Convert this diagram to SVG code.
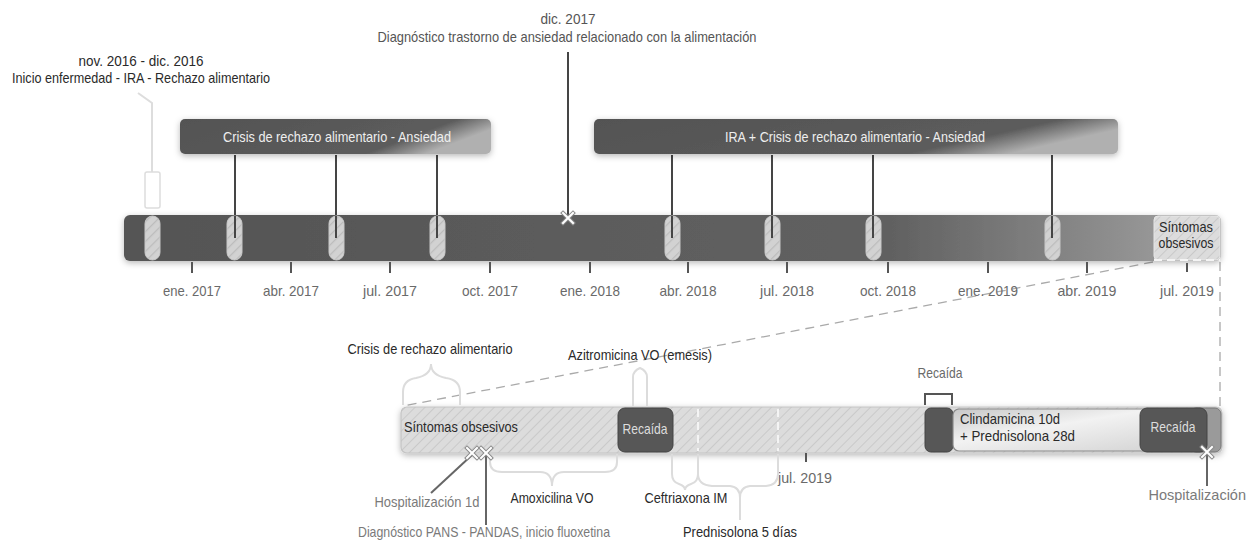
<svg xmlns="http://www.w3.org/2000/svg" xmlns:xlink="http://www.w3.org/1999/xlink" width="1250" height="540" viewBox="0 0 1250 540">
<defs>
<style>
text{font-family:"Liberation Sans",Arial,sans-serif;font-size:14.5px}
.dk{fill:#2a2a2a}
.md{fill:#555}
.gr{fill:#6a6a6a}
.lt{fill:#7a7a7a}
.wh{fill:#eeeeee}
.mid{text-anchor:middle}
.conn{stroke:#454545;stroke-width:2;fill:none}
.tick{stroke:#555;stroke-width:2}
.brace{stroke:#dcdcdc;stroke-width:2;fill:none}
.dash{stroke:#aaa;stroke-width:1.3;stroke-dasharray:9 6;fill:none}
.wdash{stroke:#f4f4f4;stroke-width:2;stroke-dasharray:8 5}
.pill{fill:url(#hatchP);stroke:#c8c8c8;stroke-width:1}
.dbox{fill:#575757;stroke:#444;stroke-width:1}
</style>
<pattern id="hatch" patternUnits="userSpaceOnUse" width="7" height="7" patternTransform="rotate(45)">
<rect width="7" height="7" fill="#dcdcdc"/>
<line x1="0" y1="0" x2="0" y2="7" stroke="#c9c9c9" stroke-width="2"/>
</pattern>
<pattern id="hatchP" patternUnits="userSpaceOnUse" width="7" height="7" patternTransform="rotate(45)">
<rect width="7" height="7" fill="#d2d2d2"/>
<line x1="0" y1="0" x2="0" y2="7" stroke="#bcbcbc" stroke-width="2.5"/>
</pattern>
<linearGradient id="barG" x1="0" y1="0" x2="1" y2="0">
<stop offset="0" stop-color="#545454"/>
<stop offset="0.7" stop-color="#616161"/>
<stop offset="1" stop-color="#a4a4a4"/>
</linearGradient>
<linearGradient id="boxG" x1="0" y1="0" x2="1" y2="0.3">
<stop offset="0" stop-color="#535353"/>
<stop offset="0.82" stop-color="#5c5c5c"/>
<stop offset="1" stop-color="#b0b0b0"/>
</linearGradient>
<linearGradient id="clinG" x1="0" y1="0" x2="1" y2="1">
<stop offset="0" stop-color="#c8c8c8"/>
<stop offset="0.4" stop-color="#f2f2f2"/>
<stop offset="1" stop-color="#cfcfcf"/>
</linearGradient>
<filter id="sh" x="-5%" y="-30%" width="110%" height="170%">
<feDropShadow dx="0" dy="2" stdDeviation="3" flood-color="#000" flood-opacity="0.28"/>
</filter>
<g id="xm">
<path d="M-5,-5 L5,5 M5,-5 L-5,5" stroke="#8a8a8a" stroke-width="4" stroke-linecap="square"/>
<path d="M-5,-5 L5,5 M5,-5 L-5,5" stroke="#ffffff" stroke-width="2" stroke-linecap="square"/>
</g>
</defs>

<!-- connectors / guide lines -->
<g id="connectors">
<path d="M138,93 L152,103 L152,172" stroke="#dddddd" stroke-width="2" fill="none"/>
<rect x="145" y="172" width="15" height="36" rx="2" fill="#fff" stroke="#dddddd" stroke-width="1.5"/>
<line x1="568" y1="52" x2="568" y2="214" class="conn" stroke="#555"/>
<line x1="235" y1="155" x2="235" y2="238" class="conn"/>
<line x1="336" y1="155" x2="336" y2="238" class="conn"/>
<line x1="437" y1="155" x2="437" y2="238" class="conn"/>
<line x1="672" y1="155" x2="672" y2="238" class="conn"/>
<line x1="772" y1="155" x2="772" y2="238" class="conn"/>
<line x1="873" y1="155" x2="873" y2="238" class="conn"/>
<line x1="1052" y1="155" x2="1052" y2="238" class="conn"/>
<path class="dash" d="M1153,262 L403,406"/>
<path class="dash" d="M1220,262 L1220,407"/>
</g>

<!-- top boxes -->
<g id="box1">
<rect x="180" y="119" width="311" height="35" rx="5" fill="url(#boxG)" filter="url(#sh)"/>
<text x="337" y="142" class="wh mid" textLength="228" lengthAdjust="spacingAndGlyphs">Crisis de rechazo alimentario - Ansiedad</text>
</g>
<g id="box2">
<rect x="594" y="119" width="524" height="35" rx="5" fill="url(#boxG)" filter="url(#sh)"/>
<text x="855" y="142" class="wh mid" textLength="260" lengthAdjust="spacingAndGlyphs">IRA + Crisis de rechazo alimentario - Ansiedad</text>
</g>

<!-- top timeline bar -->
<g id="timeline-top">
<rect x="124" y="215" width="1097" height="46" rx="6" fill="url(#barG)" filter="url(#sh)"/>
<rect x="1154" y="216" width="66" height="44" rx="4" fill="url(#hatch)" stroke="#e6e6e6" stroke-width="1"/>
<line x1="1154" y1="260" x2="1220" y2="260" class="wdash"/>
<text x="1186" y="232" class="dk mid" font-size="13.5" textLength="54" lengthAdjust="spacingAndGlyphs">Síntomas</text>
<text x="1186" y="248" class="dk mid" font-size="13.5" textLength="55" lengthAdjust="spacingAndGlyphs">obsesivos</text>
<line x1="568" y1="214" x2="568" y2="218" stroke="#555" stroke-width="2"/>
<use href="#xm" x="568" y="218"/>
</g>

<g id="pills">
<rect class="pill" x="145" y="216" width="15" height="44" rx="7.5"/>
<rect class="pill" x="227" y="216" width="15" height="44" rx="7.5"/>
<rect class="pill" x="329" y="216" width="15" height="44" rx="7.5"/>
<rect class="pill" x="430" y="216" width="15" height="44" rx="7.5"/>
<rect class="pill" x="665" y="216" width="15" height="44" rx="7.5"/>
<rect class="pill" x="765" y="216" width="15" height="44" rx="7.5"/>
<rect class="pill" x="866" y="216" width="15" height="44" rx="7.5"/>
<rect class="pill" x="1045" y="216" width="15" height="44" rx="7.5"/>
<line x1="235" y1="216" x2="235" y2="238" class="conn"/>
<line x1="336" y1="216" x2="336" y2="238" class="conn"/>
<line x1="437" y1="216" x2="437" y2="238" class="conn"/>
<line x1="672" y1="216" x2="672" y2="238" class="conn"/>
<line x1="772" y1="216" x2="772" y2="238" class="conn"/>
<line x1="873" y1="216" x2="873" y2="238" class="conn"/>
<line x1="1052" y1="216" x2="1052" y2="238" class="conn"/>
</g>

<g id="axis-top">
<line class="tick" x1="192" y1="262" x2="192" y2="273"/>
<line class="tick" x1="291" y1="262" x2="291" y2="273"/>
<line class="tick" x1="390" y1="262" x2="390" y2="273"/>
<line class="tick" x1="490" y1="262" x2="490" y2="273"/>
<line class="tick" x1="590" y1="262" x2="590" y2="273"/>
<line class="tick" x1="688" y1="262" x2="688" y2="273"/>
<line class="tick" x1="787" y1="262" x2="787" y2="273"/>
<line class="tick" x1="888" y1="262" x2="888" y2="273"/>
<line class="tick" x1="988" y1="262" x2="988" y2="273"/>
<line class="tick" x1="1087" y1="262" x2="1087" y2="273"/>
<line class="tick" x1="1187" y1="263" x2="1187" y2="272"/>
<text class="gr mid" x="192" y="296" textLength="58" lengthAdjust="spacingAndGlyphs">ene. 2017</text>
<text class="gr mid" x="291" y="296" textLength="56" lengthAdjust="spacingAndGlyphs">abr. 2017</text>
<text class="gr mid" x="390" y="296" textLength="54" lengthAdjust="spacingAndGlyphs">jul. 2017</text>
<text class="gr mid" x="490" y="296" textLength="56" lengthAdjust="spacingAndGlyphs">oct. 2017</text>
<text class="gr mid" x="590" y="296" textLength="60" lengthAdjust="spacingAndGlyphs">ene. 2018</text>
<text class="gr mid" x="688" y="296" textLength="57" lengthAdjust="spacingAndGlyphs">abr. 2018</text>
<text class="gr mid" x="787" y="296" textLength="54" lengthAdjust="spacingAndGlyphs">jul. 2018</text>
<text class="gr mid" x="888" y="296" textLength="56" lengthAdjust="spacingAndGlyphs">oct. 2018</text>
<text class="gr mid" x="988" y="296" textLength="60" lengthAdjust="spacingAndGlyphs">ene. 2019</text>
<text class="gr mid" x="1087" y="296" textLength="59" lengthAdjust="spacingAndGlyphs">abr. 2019</text>
<text class="gr mid" x="1187" y="296" textLength="54" lengthAdjust="spacingAndGlyphs">jul. 2019</text>
</g>

<g id="event-start">
<text class="dk mid" x="141" y="66" textLength="125" lengthAdjust="spacingAndGlyphs">nov. 2016 - dic. 2016</text>
<text class="dk mid" x="141" y="83" textLength="258" lengthAdjust="spacingAndGlyphs">Inicio enfermedad - IRA - Rechazo alimentario</text>
</g>
<g id="event-dic2017">
<text class="md mid" x="568" y="24" textLength="55" lengthAdjust="spacingAndGlyphs">dic. 2017</text>
<text class="md mid" x="567" y="42" textLength="379" lengthAdjust="spacingAndGlyphs">Diagnóstico trastorno de ansiedad relacionado con la alimentación</text>
</g>

<!-- bottom timeline -->
<g id="timeline-bottom">
<rect x="401" y="407" width="821" height="46" rx="6" fill="url(#hatch)" stroke="#c4c4c4" stroke-width="1.2" filter="url(#sh)"/>
<text class="dk" x="404" y="432" textLength="114" lengthAdjust="spacingAndGlyphs">Síntomas obsesivos</text>
<line x1="698" y1="409" x2="698" y2="451" class="wdash"/>
<line x1="778" y1="409" x2="778" y2="451" class="wdash"/>
<line x1="806" y1="453" x2="806" y2="462" class="tick"/>
<text class="gr mid" x="805" y="483" textLength="54" lengthAdjust="spacingAndGlyphs">jul. 2019</text>
</g>
<g id="recaida1">
<rect class="dbox" x="618" y="408" width="55" height="44" rx="7"/>
<text class="mid" x="645" y="434" fill="#ddd" textLength="45" lengthAdjust="spacingAndGlyphs">Recaída</text>
</g>
<g id="recaida2">
<rect class="dbox" x="925" y="408" width="28" height="44" rx="6"/>
<path d="M925,405 L925,394 L952,394 L952,405" stroke="#555" stroke-width="2" fill="none"/>
<text class="gr mid" x="940" y="378" textLength="45" lengthAdjust="spacingAndGlyphs">Recaída</text>
</g>
<g id="clindamicina">
<rect x="1190" y="408" width="31" height="44" rx="6" fill="#9a9a9a" stroke="#777" stroke-width="1"/>
<rect x="953" y="409" width="250" height="42" rx="6" fill="url(#clinG)" stroke="#8a8a8a" stroke-width="1.2"/>
<text class="dk" x="960" y="424" textLength="100" lengthAdjust="spacingAndGlyphs">Clindamicina 10d</text>
<text class="dk" x="960" y="441" textLength="115" lengthAdjust="spacingAndGlyphs">+ Prednisolona 28d</text>
</g>
<g id="recaida3">
<rect class="dbox" x="1140" y="408" width="67" height="44" rx="7"/>
<text class="mid" x="1173" y="432" fill="#ddd" textLength="45" lengthAdjust="spacingAndGlyphs">Recaída</text>
</g>
<g id="hosp-final">
<line x1="1207" y1="453" x2="1207" y2="486" stroke="#666" stroke-width="2"/>
<use href="#xm" x="1207" y="452"/>
<text class="lt" x="1246" y="500" font-size="12" text-anchor="end">Hospitalización</text>
</g>

<!-- bottom annotations -->
<g id="crisis-annot">
<path class="brace" d="M403,405 L403,392 Q403,380 416,378 Q431,375 431,364 Q431,375 446,378 Q460,380 460,392 L460,405"/>
<text class="dk mid" x="430" y="354" textLength="165" lengthAdjust="spacingAndGlyphs">Crisis de rechazo alimentario</text>
</g>
<g id="azitro-annot">
<path class="brace" d="M633,406 L633,377 Q633,371 640,368 Q647,371 647,377 L647,406"/>
<text class="dk mid" x="640" y="360" textLength="144" lengthAdjust="spacingAndGlyphs">Azitromicina VO (emesis)</text>
</g>
<g id="amox-annot">
<path class="brace" d="M490,454 L490,462 Q490,472 502,472 L540,472 Q552,472 552,486 Q552,472 564,472 L605,472 Q617,472 617,462 L617,454"/>
<text class="dk mid" x="552" y="503" textLength="83" lengthAdjust="spacingAndGlyphs">Amoxicilina VO</text>
</g>
<g id="ceftri-annot">
<path class="brace" d="M672,454 L672,474 Q672,482 679,484 Q685,486 685,490 Q685,486 691,484 Q698,482 698,474 L698,454"/>
<text class="dk mid" x="686" y="503" textLength="83" lengthAdjust="spacingAndGlyphs">Ceftriaxona IM</text>
</g>
<g id="pred-annot">
<path class="brace" d="M698,454 L698,474 Q698,485 712,486 L730,486 Q740,487 740,498 L740,520 M740,498 Q740,487 750,486 L766,486 Q778,485 778,474 L778,454"/>
<text class="dk mid" x="740" y="537" textLength="114" lengthAdjust="spacingAndGlyphs">Prednisolona 5 días</text>
</g>
<g id="hosp1d">
<line x1="472" y1="455" x2="431" y2="493" stroke="#666" stroke-width="2"/>
<use href="#xm" x="472" y="453"/>
<text class="lt mid" x="427" y="507" textLength="105" lengthAdjust="spacingAndGlyphs">Hospitalización 1d</text>
</g>
<g id="pans">
<line x1="486" y1="455" x2="486" y2="525" stroke="#666" stroke-width="2"/>
<use href="#xm" x="486" y="453"/>
<text class="lt mid" x="484" y="537" textLength="252" lengthAdjust="spacingAndGlyphs">Diagnóstico PANS - PANDAS, inicio fluoxetina</text>
</g>
</svg>
